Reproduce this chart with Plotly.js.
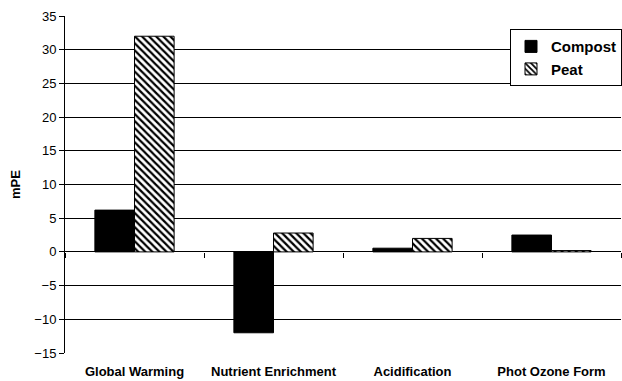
<!DOCTYPE html>
<html><head><meta charset="utf-8">
<script src="https://cdn.plot.ly/plotly-3.0.1.min.js"></script>
<style>body{margin:0;padding:0;background:#fff}#chart{width:622px;height:381px}</style>
</head><body><div id="chart"></div>
<script>
var categories = ["Global Warming", "Nutrient Enrichment", "Acidification", "Phot Ozone Form"];
var compostValues = [6.2, -12.0, 0.55, 2.5];
var peatValues = [32.0, 2.8, 2.0, 0.2];
var yTickValues = [-15, -10, -5, 0, 5, 10, 15, 20, 25, 30, 35];

var font = "Liberation Sans, Arial, sans-serif";
var traces = [
  {type: "bar", name: "Compost", x: categories, y: compostValues,
   marker: {color: "#000000", line: {color: "#000000", width: 1}}},
  {type: "bar", name: "Peat", x: categories, y: peatValues,
   marker: {color: "#ffffff", line: {color: "#000000", width: 1},
            pattern: {shape: "\\", fgcolor: "#000000", bgcolor: "#ffffff", size: 5, solidity: 0.45}}}
];
var layout = {
  width: 622, height: 381,
  margin: {l: 65, r: 0, t: 16, b: 28},
  paper_bgcolor: "#ffffff", plot_bgcolor: "#ffffff",
  font: {family: font, color: "#000000"},
  barmode: "group", bargap: 0.43, bargroupgap: 0,
  showlegend: true,
  legend: {x: 0.80, y: 0.961, xanchor: "left", yanchor: "top",
           bgcolor: "#ffffff", bordercolor: "#000000", borderwidth: 1,
           font: {family: font, size: 15, weight: "bold"}, tracegroupgap: 4},
  xaxis: {type: "category", categoryarray: categories, range: [-0.5, 3.5],
          showgrid: false, showline: false, ticks: "", ticklabelstandoff: 9,
          tickfont: {family: font, size: 13, weight: "bold"}, automargin: false},
  xaxis2: {type: "category", categoryarray: categories, range: [-0.5, 3.5], overlaying: "x",
           anchor: "free", position: 0.3, side: "bottom", showgrid: false, showline: false,
           ticks: "outside", tickson: "boundaries", ticklen: 5, tickcolor: "#000000",
           showticklabels: false, matches: "x"},
  yaxis: {range: [-15, 35], tickvals: yTickValues, ticks: "outside", ticklen: 5, tickcolor: "#000000",
          showline: true, linecolor: "#000000", linewidth: 1,
          showgrid: true, gridcolor: "#000000", gridwidth: 1,
          zeroline: true, zerolinecolor: "#000000", zerolinewidth: 1,
          tickfont: {family: font, size: 13}, automargin: false,
          title: {text: "mPE", font: {family: font, size: 13, weight: "bold"}, standoff: 10}}
};
// invisible trace to activate xaxis2
traces.push({type: "bar", x: categories, y: [null, null, null, null], xaxis: "x2", showlegend: false, hoverinfo: "skip"});
Plotly.newPlot("chart", traces, layout, {displayModeBar: false, staticPlot: true});
</script></body></html>
